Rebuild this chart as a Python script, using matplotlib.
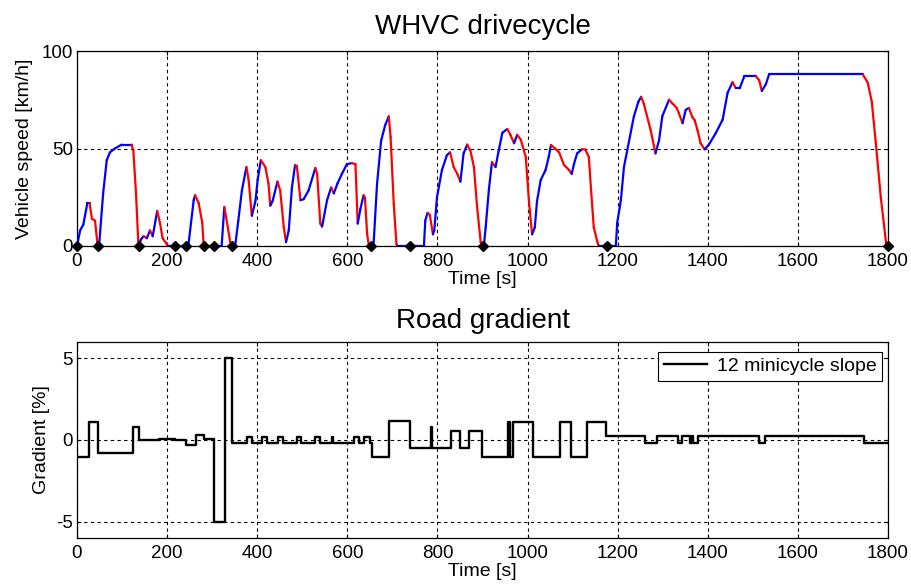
import numpy as np
import matplotlib
matplotlib.use("Agg")
import matplotlib.pyplot as plt
from matplotlib.collections import LineCollection

plt.rcParams['font.family'] = ['Liberation Sans', 'DejaVu Sans']
plt.rcParams['axes.unicode_minus'] = False

# ---------------- data ----------------
speed_t = [0, 7, 14, 23, 28, 33, 40, 45, 47, 49, 58, 66, 73, 84, 99, 104, 121, 125, 131, 136,
           138, 141, 144, 148, 155, 162, 168, 178, 184, 190, 199, 202, 247, 259, 262, 270, 278, 281,
           283, 321, 327, 333, 340, 345, 351, 358, 366, 376, 381, 388, 396, 401, 408, 418, 425, 429,
           434, 445, 451, 459, 464, 470, 477, 484, 488, 496, 503, 514, 529, 533, 540, 544, 555, 564,
           570, 578, 588, 599, 610, 618, 623, 629, 636, 639, 644, 648, 658, 666, 675, 684, 692, 696,
           703, 709, 711, 770, 773, 778, 783, 790, 793, 799, 810, 821, 828, 836, 844, 851, 858, 866,
           873, 881, 888, 896, 899, 903, 907, 914, 921, 929, 936, 944, 955, 962, 970, 977, 985, 996,
           1003, 1010, 1016, 1021, 1029, 1040, 1047, 1052, 1061, 1070, 1081, 1092, 1098, 1103, 1110,
           1121, 1128, 1136, 1141, 1147, 1155, 1158, 1196, 1199, 1207, 1214, 1236, 1246, 1252, 1258,
           1273, 1284, 1292, 1299, 1314, 1322, 1331, 1336, 1344, 1351, 1358, 1366, 1371, 1377, 1384,
           1393, 1402, 1418, 1433, 1444, 1455, 1462, 1471, 1481, 1507, 1514, 1520, 1529, 1536, 1600,
           1650, 1700, 1744, 1755, 1764, 1773, 1784, 1796, 1800]
speed_v = [0, 8, 11, 22, 22, 14, 13, 2, 0, 0, 27, 44, 48, 50, 52, 52, 52, 49, 27, 2,
           0, 3, 4, 5, 4, 8, 5, 18, 12, 4, 1, 0, 0, 23.5, 26, 22, 12, 1,
           0, 0, 20, 12, 2, 0, 0, 13, 28.5, 40.5, 33.7, 15.5, 23, 34, 44, 40.5, 32, 20.7,
           23, 33, 28.5, 9.5, 2, 8, 30, 41.5, 41, 23.5, 24, 28.5, 40, 37, 11.5, 10, 23.5, 30,
           27, 32, 37, 42, 42.5, 42, 11.5, 19, 26, 25, 6, 0, 0, 32, 54, 62, 66.5, 56,
           21.6, 1, 0, 0, 13, 17, 16, 6, 8, 25, 39, 46.6, 48, 40.5, 37, 33, 47.5, 52,
           49, 40.5, 20, 2, 0, 0, 9.5, 28.5, 43, 40.5, 49, 58, 60, 57, 52.7, 57, 54.5, 45.7,
           23.3, 6, 9.5, 23, 33.7, 39, 45.7, 51.8, 50, 48, 41.5, 39, 37, 42, 47.5,
           49.6, 49.5, 45.7, 28.5, 9.5, 2, 0, 0, 12, 23.3, 40.5, 66.5, 74, 76.5, 73,
           59.6, 47.5, 54.4, 66.5, 75, 73, 70.8, 68, 63, 69.8, 70.8, 66, 64.5, 59.6, 52.7,
           49.6, 51.8, 58, 64.8, 78.6, 84, 81, 81, 87, 87, 85, 79.5, 83, 88, 88,
           88, 88, 88, 83.8, 74, 52.7, 25, 1, 0]

stop_t = [0, 46, 138, 218, 242, 281, 305, 345, 653, 740, 901, 1176, 1800]
stop_v = [0] * len(stop_t)

grad_t = [0, 26, 46, 124, 138, 181, 218, 243, 264, 281, 304, 328, 345, 377, 388, 410, 421,
          447, 458, 488, 497, 529, 540, 566, 569, 615, 625, 638, 650, 655, 692, 739, 785, 789,
          829, 849, 869, 898, 957, 961, 967, 1011, 1071, 1097, 1132, 1173, 1260, 1287, 1334,
          1342, 1360, 1364, 1368, 1378, 1513, 1527, 1747, 1800]
grad_v = [-1.05, 1.12, -0.81, 0.81, 0.0, 0.08, 0.0, -0.3, 0.3, 0.05, -5.0, 5.0, -0.2, 0.2, -0.2,
          0.2, -0.2, 0.2, -0.2, 0.2, -0.2, 0.2, -0.2, 0.2, -0.2, 0.2, -0.2, 0.2, -0.2, -1.05,
          1.15, -0.5, 0.8, -0.5, 0.57, -0.5, 0.57, -1.05, 1.12, -1.05, 1.12, -1.05, 1.12,
          -1.05, 1.12, 0.25, -0.2, 0.25, -0.2, 0.25, -0.2, 0.25, -0.2, 0.25, -0.2, 0.25, -0.2,
          -0.2]

x_ticks = [0, 200, 400, 600, 800, 1000, 1200, 1400, 1600, 1800]
speed_ticks = [0, 50, 100]
grad_ticks = [-5, 0, 5]

# ---------------- figure ----------------
fig = plt.figure(figsize=(9.12, 5.86), dpi=100)
ax1 = fig.add_axes([77 / 912, 1 - 246 / 586, 811 / 912, 195 / 586])
ax2 = fig.add_axes([77 / 912, 1 - 538 / 586, 811 / 912, 196 / 586])

grid_kw = dict(color='black', linestyle=(0, (3, 3)), linewidth=0.8)


def style(ax):
    ax.set_xlim(0, 1800)
    ax.set_xticks(x_ticks)
    ax.tick_params(direction='in', top=True, right=True, length=3, width=0.8,
                   labelsize=13.5, pad=5)
    ax.tick_params(axis='y', pad=3)
    ax.grid(True, **grid_kw)
    for s in ax.spines.values():
        s.set_linewidth(0.9)
        s.set_color('black')


# top: speed
t = np.asarray(speed_t, float)
v = np.asarray(speed_v, float)
pts = np.column_stack([t, v])
segs = np.stack([pts[:-1], pts[1:]], axis=1)
cols = ['red' if b < a else 'blue' for a, b in zip(v[:-1], v[1:])]
lc = LineCollection(segs, colors=cols, linewidths=1.6, capstyle='round', joinstyle='round', zorder=3)
ax1.add_collection(lc)
ax1.plot(stop_t, stop_v, linestyle='none', marker='D', markersize=5, color='black',
         clip_on=False, zorder=5)
style(ax1)
ax1.set_ylim(0, 100)
ax1.set_yticks(speed_ticks)
ax1.set_title('WHVC drivecycle', fontsize=20, pad=12)
ax1.set_xlabel('Time [s]', fontsize=14, labelpad=1)
ax1.set_ylabel('Vehicle speed [km/h]', fontsize=14, labelpad=6)

# bottom: gradient
ax2.plot(grad_t, grad_v, drawstyle='steps-post', color='black', linewidth=1.7,
         label='12 minicycle slope', zorder=3)
style(ax2)
ax2.set_ylim(-6, 6)
ax2.set_yticks(grad_ticks)
ax2.set_title('Road gradient', fontsize=20, pad=10)
ax2.set_xlabel('Time [s]', fontsize=14, labelpad=1)
ax2.set_ylabel('Gradient [%]', fontsize=14, labelpad=4)
leg = ax2.legend(loc='upper right', bbox_to_anchor=(0.993, 0.95), borderaxespad=0,
                 fontsize=14, fancybox=False, framealpha=1, edgecolor='black',
                 handlelength=2.2, borderpad=0.3, handletextpad=0.5)
leg.get_frame().set_linewidth(0.8)

fig.savefig('out.png', dpi=100)
